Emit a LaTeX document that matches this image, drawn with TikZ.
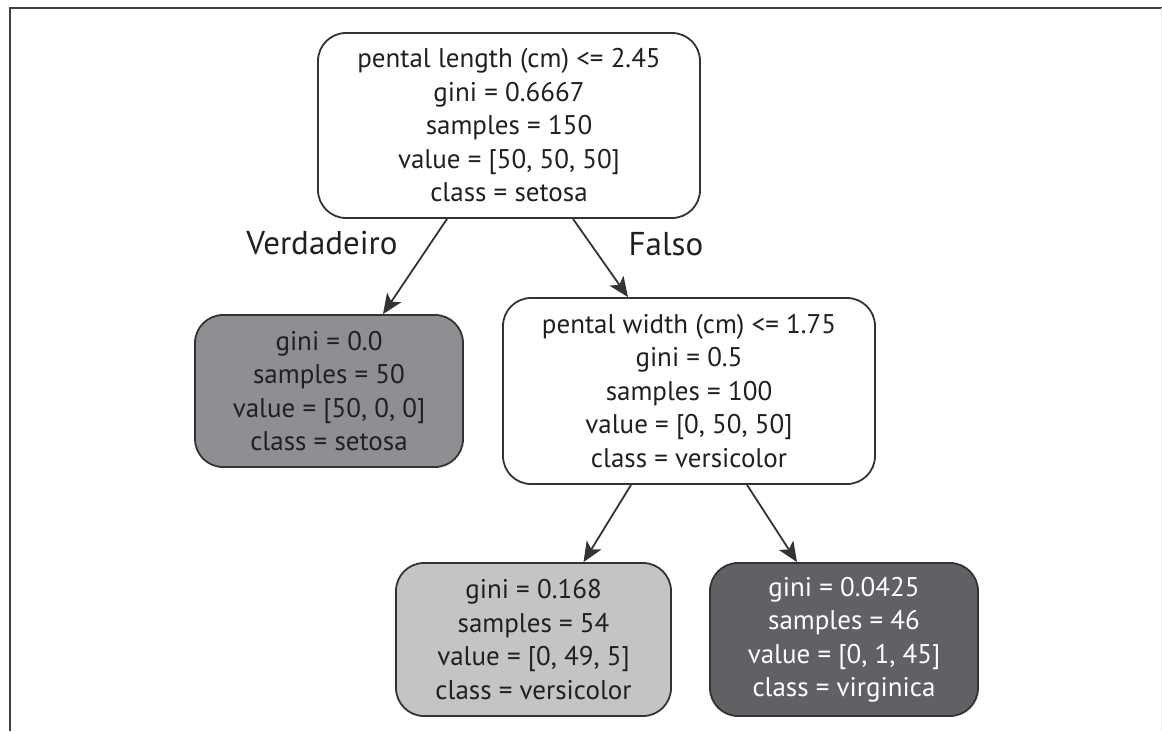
\documentclass[tikz,border=0pt]{standalone}
\usepackage{fontspec}
\setmainfont{PT Sans}
\usetikzlibrary{arrows.meta}
\definecolor{inkdark}{HTML}{231F20}
\definecolor{edgegray}{HTML}{333333}
\definecolor{leafmid}{HTML}{8E8F93}
\definecolor{leaflight}{HTML}{C3C4C6}
\definecolor{leafdark}{HTML}{606164}
\tikzset{
  treenode/.style={draw=edgegray, line width=1.8pt, rounded corners=28pt,
    align=center, inner sep=0pt, text=inkdark,
    font=\fontsize{27}{33.5}\selectfont},
  branch/.style={draw=edgegray, line width=1.8pt,
    -{Stealth[length=20pt,width=17pt,inset=5pt]}},
  branchlabel/.style={font=\fontsize{33}{38}\selectfont, text=inkdark}
}
\begin{document}
\begin{tikzpicture}[x=1pt,y=-1pt]
\useasboundingbox (0,0) rectangle (1162,731);
\fill[white] (0,0) rectangle (1162,731);
% page frame
\draw[line width=2.6pt, color=black!75] (10,731) -- (10,8) -- (1162,8);
\draw[line width=1pt, color=black!8] (1161,8) -- (1161,731);

% tree nodes
\node[treenode, fill=white, minimum width=382pt, minimum height=185pt] (root) at (509,125.5)
  {pental length (cm) <= 2.45\\gini = 0.6667\\samples = 150\\value = [50, 50, 50]\\class = setosa};
\node[treenode, fill=leafmid, minimum width=268pt, minimum height=152pt] (setosa) at (329,391)
  {gini = 0.0\\samples = 50\\value = [50, 0, 0]\\class = setosa};
\node[treenode, fill=white, minimum width=372pt, minimum height=186pt] (split) at (689,391)
  {pental width (cm) <= 1.75\\gini = 0.5\\samples = 100\\value = [0, 50, 50]\\class = versicolor};
\node[treenode, fill=leaflight, minimum width=275pt, minimum height=153pt] (versi) at (533.5,639.5)
  {gini = 0.168\\samples = 54\\value = [0, 49, 5]\\class = versicolor};
\node[treenode, fill=leafdark, text=white, minimum width=268pt, minimum height=153pt] (virgi) at (844,639.5)
  {gini = 0.0425\\samples = 46\\value = [0, 1, 45]\\class = virginica};

% branches
\draw[branch] ([xshift=-62pt]root.south) -- ([xshift=54pt]setosa.north);
\draw[branch] ([xshift=64pt]root.south) -- ([xshift=-61pt]split.north);
\draw[branch] ([xshift=-58pt]split.south) -- ([xshift=50pt]versi.north);
\draw[branch] ([xshift=58pt]split.south) -- ([xshift=-47pt]virgi.north);

% branch labels
\node[branchlabel] (truelabel) at (322,243) {Verdadeiro};
\node[branchlabel] (falselabel) at (666,244) {Falso};
\end{tikzpicture}
\end{document}
